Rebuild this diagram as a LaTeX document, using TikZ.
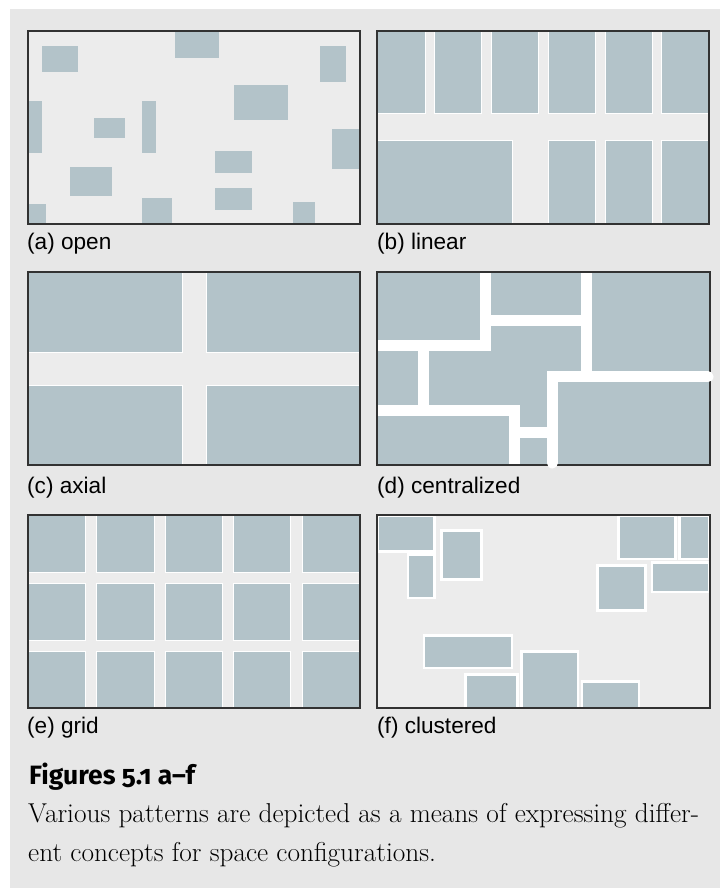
\documentclass[tikz,border=0pt]{standalone}
\usepackage{fontspec}
\setsansfont{Liberation Sans}
\newfontfamily\headfont{Fira Sans}[Numbers=OldStyle]
\usepackage{tikz}

\definecolor{pagebg}{RGB}{231,231,231}
\definecolor{panelfill}{RGB}{236,236,236}
\definecolor{blockcol}{RGB}{179,195,201}
\definecolor{framecol}{RGB}{50,50,50}

\begin{document}
\begin{tikzpicture}[
    x=1pt, y=-1pt,
    frame/.style={draw=framecol, line width=1.6pt},
    blk/.style={fill=blockcol, draw=white, line width=0.7pt},
    blkplain/.style={fill=blockcol},
    blkthick/.style={fill=blockcol, draw=white, line width=2.6pt},
    hall/.style={draw=white, line width=11pt},
    lbl/.style={anchor=base west, inner sep=0pt, font=\sffamily\fontsize{22.6}{26}\selectfont},
    body/.style={anchor=base west, inner sep=0pt, font=\rmfamily\fontsize{27.3}{32}\selectfont}
]
    \useasboundingbox (0,0) rectangle (720,888);
    \fill[pagebg] (10,9) rectangle (720,888);

    % (a) open
    \fill[panelfill] (28,31) rectangle (360,224);
    \foreach \xa/\ya/\xb/\yb in {42.3/45.7/77.7/72, 175/31/218.7/58.3, 320/45.7/345.7/81.7,
        234/85.3/287.7/120, 28/101.3/42/153.3, 142/101.3/155.7/153.3, 94.3/117.7/125.3/138,
        332.3/128.7/360/169.3, 215.3/151/252.3/173.3, 70.3/167/112.3/196,
        215.3/187.7/252.3/210, 28/204/46/224, 142/198/171.7/224, 293.3/202/315/224}
        \fill[blkplain] (\xa,\ya) rectangle (\xb,\yb);
    \draw[frame] (28,31) rectangle (360,224);
    \node[lbl] (lbla) at (27,249) {(a) open};

    % (b) linear
    \fill[panelfill] (377,31) rectangle (709,224);
    \foreach \xa/\xb in {377/425, 434.3/481.7, 491/538.3, 548/595.3, 605/652, 661.7/709}
        \draw[blk] (\xa,31) rectangle (\xb,113.7);
    \foreach \xa/\xb in {377/512.7, 548/595.3, 605/652, 661.7/709}
        \draw[blk] (\xa,140.7) rectangle (\xb,224);
    \draw[frame] (377,31) rectangle (709,224);
    \node[lbl] (lblb) at (377,249) {(b) linear};

    % (c) axial
    \fill[panelfill] (28,272) rectangle (360,465);
    \foreach \xa/\xb in {28/182.3, 206/360}
        \foreach \ya/\yb in {272/352.3, 385/465}
            \draw[blk] (\xa,\ya) rectangle (\xb,\yb);
    \draw[frame] (28,272) rectangle (360,465);
    \node[lbl] (lblc) at (27,493) {(c) axial};

    % (d) centralized
    \fill[blockcol] (377,272) rectangle (710,465);
    \draw[frame] (377,272) rectangle (710,465);
    \draw[hall] (485.3,273) -- (485.3,351);
    \draw[hall] (378,345.5) -- (490.7,345.5);
    \draw[hall] (485.3,320.5) -- (591.7,320.5);
    \draw[hall] (586.3,273) -- (586.3,382.2);
    \draw[hall, line cap=round, line join=miter] (708,376.7) -- (552.2,376.7) -- (552.2,463);
    \draw[hall] (423.8,351) -- (423.8,405);
    \draw[hall] (378,410.5) -- (520,410.5);
    \draw[hall] (514.5,405) -- (514.5,464.2);
    \draw[hall] (509,432.2) -- (557,432.2);
    \node[lbl] (lbld) at (377,493) {(d) centralized};

    % (e) grid
    \fill[panelfill] (28,515) rectangle (360,708);
    \foreach \xa/\xb in {28/85.3, 96.7/154, 165/222.3, 233.7/290.7, 302/360}
        \foreach \ya/\yb in {515/572.7, 583.3/640, 651/708}
            \draw[blk] (\xa,\ya) rectangle (\xb,\yb);
    \draw[frame] (28,515) rectangle (360,708);
    \node[lbl] (lble) at (27,733) {(e) grid};

    % (f) clustered
    \fill[panelfill] (377,515) rectangle (710,708);
    \foreach \xa/\ya/\xb/\yb in {377.5/515.5/434.6/551.3, 408/554.7/434.6/598, 441.4/530.7/481.3/579.6,
        618.7/515.5/675.6/559, 679.4/515.5/709.5/559, 597.4/565.4/645.6/610.6,
        652/562.7/709.5/592, 424/635.4/512/668, 465.4/674.4/517.3/708,
        521.4/651.4/578/708, 582/681.4/639/708}
        \draw[blkthick] (\xa,\ya) rectangle (\xb,\yb);
    \draw[frame] (377,515) rectangle (710,708);
    \node[lbl] (lblf) at (377,733) {(f) clustered};

    % caption
    \node[anchor=base west, inner sep=0pt, font=\headfont\bfseries\fontsize{26.5}{30}\selectfont]
        (head) at (29,784) {Figures 5.1 a–f};
    \node[body] (line1) at (28,822) {Various patterns are depicted as a means of expressing differ-};
    \node[body] (line2) at (28,861) {ent concepts for space configurations.};
\end{tikzpicture}
\end{document}
